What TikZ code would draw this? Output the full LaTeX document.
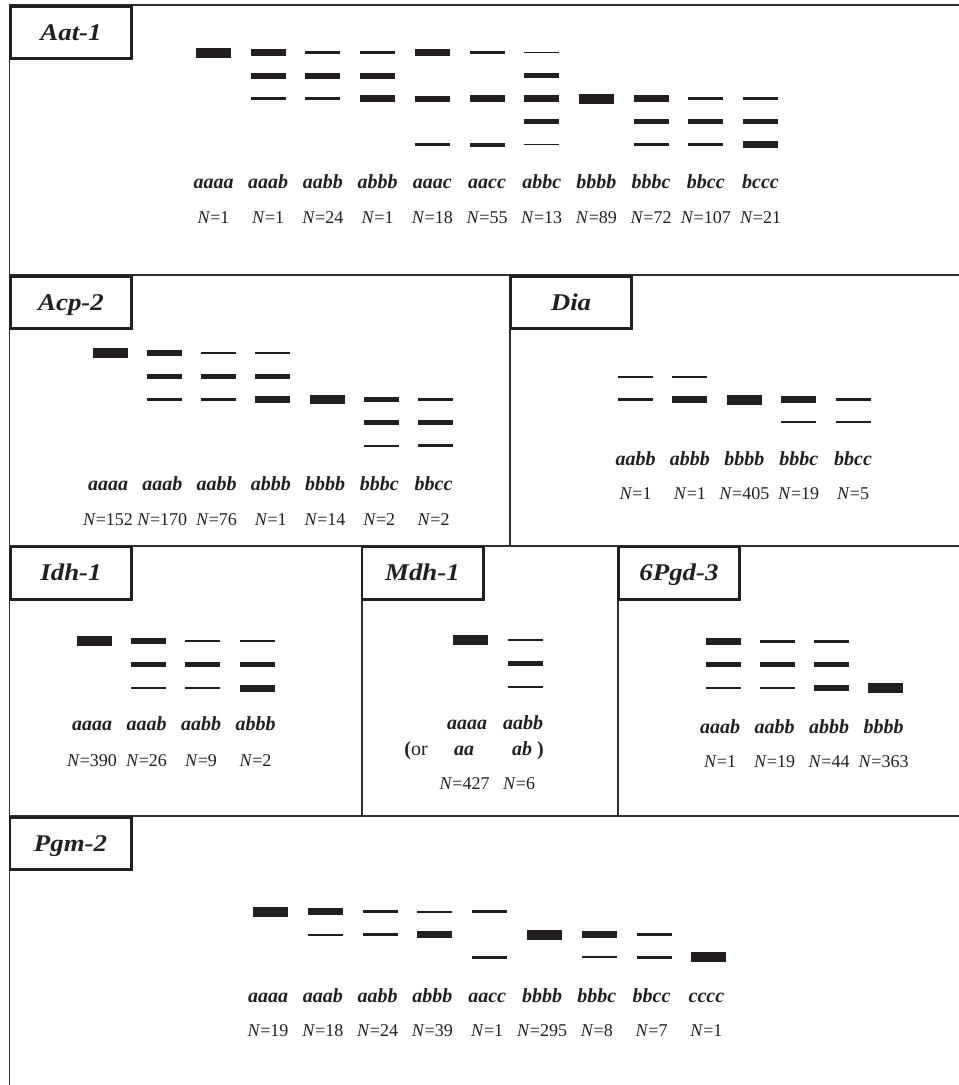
\documentclass[tikz,border=0pt]{standalone}
\usepackage{fontspec}
\setmainfont{Liberation Serif}
\usepackage{graphicx}

\definecolor{ink}{HTML}{231F20}
\definecolor{rule}{HTML}{2E2E2E}

\tikzset{
  frame/.style={draw=rule, line width=1.6pt},
  tagbox/.style={draw=ink, line width=2.6pt, fill=white, inner sep=0pt,
    minimum width=121.4pt, minimum height=52.4pt, text height=15.9pt, text depth=0pt,
    font=\fontsize{24}{28}\selectfont\bfseries\itshape, text=ink},
  geno/.style={anchor=base, inner sep=0pt, text=ink,
    font=\fontsize{20}{24}\selectfont\bfseries\itshape},
  count/.style={anchor=base, inner sep=0pt, text=ink,
    font=\fontsize{18}{22}\selectfont},
  bandfill/.style={fill=ink},
}

% bands of one gel: x of lane 1, lane step, y of level 1, level step, list lane/level/thickness
\newcommand\gelbands[5]{%
  \foreach \c/\k/\t in {#5}{%
    \pgfmathsetmacro\bx{#1+(\c-1)*#2}%
    \pgfmathsetmacro\by{#3+(\k-1)*#4}%
    \fill[bandfill] (\bx-17.5,\by-\t/2) rectangle (\bx+17.5,\by+\t/2);
  }}

% genotype and count labels: prefix, x of lane 1, lane step, genotype baseline, count baseline, list
\newcommand\gellabels[6]{%
  \foreach \g/\n [count=\i] in {#6}{%
    \pgfmathsetmacro\lx{#2+(\i-1)*#3}%
    \node[geno] (#1-g\i) at (\lx,#4) {\g};
    \node[count] (#1-n\i) at (\lx,#5) {\textit{N}=\n};
  }}

\newcommand\tagname[1]{\scalebox{1.12}[1]{#1}}

\begin{document}
\begin{tikzpicture}[x=1pt,y=-1pt]
\useasboundingbox (0,0) rectangle (959,1085);

% panel frame
\draw[frame] (9.5,1085) -- (9.5,4.7) -- (959,4.7);
\draw[frame] (9.5,275) -- (959,275);
\draw[frame] (9.5,546) -- (959,546);
\draw[frame] (9.5,816) -- (959,816);
\draw[frame] (510,275) -- (510,546);
\draw[frame] (362,546) -- (362,816);
\draw[frame] (618,546) -- (618,816);

% locus names
\node[tagbox] (aat-tag)  at (71,32.5)   {\tagname{Aat-1}};
\node[tagbox] (acp-tag)  at (71,302.5)  {\tagname{Acp-2}};
\node[tagbox] (dia-tag)  at (571,302.5) {\tagname{Dia}};
\node[tagbox] (idh-tag)  at (71,573)    {\tagname{Idh-1}};
\node[tagbox] (mdh-tag)  at (422.5,573) {\tagname{Mdh-1}};
\node[tagbox] (pgd-tag)  at (679,573)   {\tagname{6Pgd-3}};
\node[tagbox] (pgm-tag)  at (70.5,843.5) {\tagname{Pgm-2}};

% Aat-1
\gelbands{213.5}{54.7}{52.5}{23}{1/1/10,
  2/1/6.5, 2/2/6, 2/3/2.2,
  3/1/2.5, 3/2/6, 3/3/2.2,
  4/1/2.3, 4/2/6, 4/3/7.3,
  5/1/7.3, 5/3/6, 5/5/2.6,
  6/1/3.4, 6/3/7, 6/5/4,
  7/1/1.8, 7/2/5, 7/3/7, 7/4/5, 7/5/1.8,
  8/3/10,
  9/3/7, 9/4/5, 9/5/2.5,
  10/3/3.4, 10/4/5, 10/5/3.6,
  11/3/2.2, 11/4/5, 11/5/7}
\gellabels{aat}{213.5}{54.7}{188.5}{223}{aaaa/1, aaab/1, aabb/24, abbb/1, aaac/18,
  aacc/55, abbc/13, bbbb/89, bbbc/72, bbcc/107, bccc/21}

% Acp-2
\gelbands{110}{54.25}{353}{23.2}{1/1/10,
  2/1/6.7, 2/2/5, 2/3/2.2,
  3/1/2.2, 3/2/5, 3/3/2.2,
  4/1/2.2, 4/2/5, 4/3/7.3,
  5/3/9.7,
  6/3/5.5, 6/4/4.8, 6/5/2.3,
  7/3/2.7, 7/4/4.8, 7/5/3.2}
\gellabels{acp}{108}{54.25}{490}{525}{aaaa/152, aaab/170, aabb/76, abbb/1,
  bbbb/14, bbbc/2, bbcc/2}

% Dia
\gelbands{635.5}{54.4}{377}{22.5}{1/1/2.4, 1/2/2.4,
  2/1/2.2, 2/2/7,
  3/2/10,
  4/2/7, 4/3/2.4,
  5/2/2.6, 5/3/2.8}
\gellabels{dia}{635.5}{54.4}{465}{499}{aabb/1, abbb/1, bbbb/405, bbbc/19, bbcc/5}

% Idh-1
\gelbands{94.5}{54.2}{641}{23.5}{1/1/10,
  2/1/6.5, 2/2/5, 2/3/2.2,
  3/1/2.2, 3/2/5, 3/3/2.2,
  4/1/2.2, 4/2/5, 4/3/7}
\gellabels{idh}{92}{54.5}{730}{766}{aaaa/390, aaab/26, aabb/9, abbb/2}

% Mdh-1
\gelbands{470.5}{54.5}{640}{23.5}{1/1/10,
  2/1/2.4, 2/2/5.5, 2/3/2.6}
\node[geno] (mdh-g1) at (467,729) {aaaa};
\node[geno] (mdh-g2) at (523,729) {aabb};
\node[anchor=base, inner sep=0pt, text=ink, font=\fontsize{20}{24}\selectfont]
  (mdh-or) at (416,755) {\textbf{(}or};
\node[geno] (mdh-d1) at (464,755) {aa};
\node[geno] (mdh-d2) at (522,755) {ab};
\node[anchor=base, inner sep=0pt, text=ink, font=\fontsize{20}{24}\selectfont\bfseries]
  (mdh-rp) at (540.5,755) {)};
\node[count] (mdh-n1) at (464.5,789) {\textit{N}=427};
\node[count] (mdh-n2) at (519,789) {\textit{N}=6};

% 6Pgd-3
\gelbands{723}{54.3}{641.5}{23.3}{1/1/7, 1/2/4.8, 1/3/2.6,
  2/1/2.6, 2/2/4.8, 2/3/2.6,
  3/1/2.6, 3/2/4.8, 3/3/6.7,
  4/3/10.5}
\gellabels{pgd}{720}{54.5}{733.5}{767}{aaab/1, aabb/19, abbb/44, bbbb/363}

% Pgm-2
\gelbands{270.5}{54.8}{911.7}{22.8}{1/1/10,
  2/1/6.7, 2/2/2,
  3/1/2.7, 3/2/2.7,
  4/1/2.2, 4/2/7,
  5/1/2.6, 5/3/2.6,
  6/2/10,
  7/2/6.7, 7/3/2.2,
  8/2/2.8, 8/3/2.8,
  9/3/10}
\gellabels{pgm}{268}{54.8}{1002}{1036}{aaaa/19, aaab/18, aabb/24, abbb/39, aacc/1,
  bbbb/295, bbbc/8, bbcc/7, cccc/1}
\end{tikzpicture}
\end{document}
